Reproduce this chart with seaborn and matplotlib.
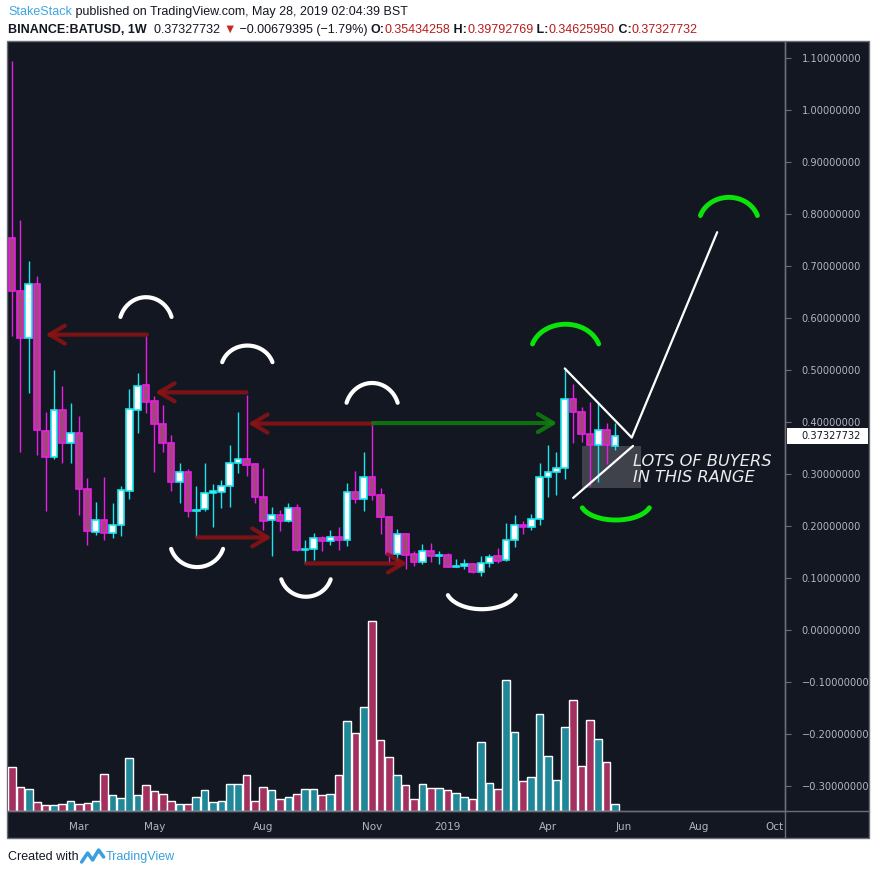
import numpy as np
import pandas as pd
import matplotlib
matplotlib.use("Agg")
import matplotlib.pyplot as plt
import seaborn as sns
from matplotlib import font_manager
from matplotlib.lines import Line2D
from matplotlib.patches import Rectangle
from matplotlib.transforms import blended_transform_factory

# weekly BINANCE:BATUSD candles, first bar = week of 2018-01-08
first_week = pd.Timestamp("2018-01-08")
opens = [0.754, 0.652, 0.561, 0.665, 0.383, 0.333, 0.423, 0.359, 0.378, 0.272,
         0.189, 0.212, 0.187, 0.201, 0.268, 0.424, 0.471, 0.440, 0.396, 0.360,
         0.285, 0.304, 0.229, 0.232, 0.263, 0.266, 0.277, 0.321, 0.328, 0.319,
         0.255, 0.211, 0.221, 0.210, 0.234, 0.154, 0.156, 0.177, 0.172, 0.178,
         0.174, 0.265, 0.251, 0.294, 0.259, 0.218, 0.147, 0.184, 0.146, 0.131,
         0.151, 0.143, 0.144, 0.122, 0.124, 0.127, 0.112, 0.128, 0.142, 0.134,
         0.174, 0.201, 0.199, 0.213, 0.294, 0.303, 0.311, 0.444, 0.420, 0.376,
         0.355, 0.384, 0.35434258]
highs = [1.094, 0.788, 0.710, 0.681, 0.420, 0.500, 0.469, 0.437, 0.412, 0.293,
         0.247, 0.295, 0.245, 0.277, 0.463, 0.495, 0.566, 0.450, 0.433, 0.375,
         0.322, 0.309, 0.277, 0.321, 0.281, 0.288, 0.356, 0.419, 0.452, 0.322,
         0.312, 0.236, 0.230, 0.244, 0.242, 0.174, 0.186, 0.180, 0.192, 0.199,
         0.282, 0.306, 0.342, 0.396, 0.273, 0.220, 0.194, 0.186, 0.152, 0.165,
         0.167, 0.152, 0.149, 0.137, 0.137, 0.128, 0.142, 0.147, 0.157, 0.205,
         0.221, 0.210, 0.224, 0.321, 0.356, 0.342, 0.503, 0.474, 0.428, 0.439,
         0.436, 0.398, 0.39792769]
lows = [0.566, 0.343, 0.456, 0.336, 0.228, 0.329, 0.321, 0.322, 0.221, 0.163,
        0.183, 0.173, 0.177, 0.180, 0.252, 0.379, 0.417, 0.303, 0.343, 0.268,
        0.245, 0.218, 0.178, 0.229, 0.199, 0.235, 0.237, 0.301, 0.297, 0.244,
        0.192, 0.143, 0.190, 0.208, 0.151, 0.129, 0.135, 0.151, 0.164, 0.154,
        0.162, 0.244, 0.228, 0.250, 0.185, 0.128, 0.133, 0.117, 0.124, 0.127,
        0.131, 0.127, 0.121, 0.121, 0.117, 0.109, 0.103, 0.121, 0.128, 0.132,
        0.160, 0.185, 0.192, 0.201, 0.255, 0.259, 0.290, 0.360, 0.361, 0.276,
        0.285, 0.319, 0.34625950]
closes = [0.651, 0.561, 0.665, 0.385, 0.333, 0.423, 0.359, 0.378, 0.272, 0.191,
          0.212, 0.187, 0.202, 0.269, 0.425, 0.469, 0.439, 0.396, 0.360, 0.285,
          0.304, 0.229, 0.230, 0.263, 0.267, 0.277, 0.321, 0.328, 0.318, 0.255,
          0.210, 0.221, 0.210, 0.234, 0.154, 0.156, 0.176, 0.172, 0.178, 0.174,
          0.265, 0.251, 0.294, 0.259, 0.218, 0.147, 0.184, 0.145, 0.131, 0.151,
          0.143, 0.144, 0.122, 0.124, 0.127, 0.112, 0.128, 0.141, 0.133, 0.174,
          0.201, 0.199, 0.213, 0.294, 0.303, 0.311, 0.444, 0.420, 0.376, 0.355,
          0.384, 0.355, 0.37327732]
volumes = [44, 24, 22, 9, 6, 6, 7, 10, 7, 8, 10, 37, 16, 13, 53, 16, 26, 20, 17, 10,
           7, 7, 14, 21, 9, 10, 27, 27, 36, 10, 24, 21, 12, 14, 17, 22, 22, 16, 17, 36,
           90, 78, 104, 190, 71, 54, 36, 26, 12, 27, 23, 23, 21, 18, 14, 12, 69, 28, 22, 131,
           79, 30, 34, 97, 55, 31, 84, 111, 45, 91, 72, 49, 7]

month_ticks = ["2018-03-05", "2018-05-07", "2018-08-06", "2018-11-05", "2019-01-07",
               "2019-04-01", "2019-06-03", "2019-08-05", "2019-10-07"]
month_labels = ["Mar", "May", "Aug", "Nov", "2019", "Apr", "Jun", "Aug", "Oct"]
last_price = 0.37327732

BG = "#131722"
BORDER = "#6b6e78"
TICK = "#b2b5be"
UP_LINE, UP_FILL = "#19e6ef", "#ffffff"
DN_LINE, DN_FILL = "#e91ee6", "#a7437f"
VOL_UP, VOL_DN = "#1f8797", "#a3305f"
ARROW_RED, ARROW_GREEN = "#8e1214", "#10800f"
ARC_GREEN = "#0be30b"

sns.set_style("dark", {"axes.facecolor": BG, "figure.facecolor": "white"})
plt.rcParams["font.family"] = ["DejaVu Sans"]

names = {f.name for f in font_manager.fontManager.ttflist}
head_font = ["Liberation Sans Narrow", "DejaVu Sans"] if "Liberation Sans Narrow" in names \
    else ["Liberation Sans", "DejaVu Sans"]
head_size = 10.3 if "Liberation Sans Narrow" in names else 9.0

df = pd.DataFrame({"open": opens, "high": highs, "low": lows, "close": closes, "volume": volumes})
df["week"] = np.arange(len(df))
df["side"] = np.where(df["close"] >= df["open"], "up", "down")
tick_pos = [(pd.Timestamp(d) - first_week).days / 7 for d in month_ticks]

W, H = 881, 874
fig = plt.figure(figsize=(W / 100, H / 100), dpi=100)


def fx(px):
    return px / W


def fy(py):
    return 1 - py / H


L, R, T, B = 8, 785, 42, 811
rect = [fx(L), fy(B), fx(R) - fx(L), fy(T) - fy(B)]
xlim = ((L - 12) / 8.375, (R - 12) / 8.375)
ylim = ((630 - B) / 520, (630 - T) / 520)

fig.add_artist(Rectangle((fx(7), fy(838)), fx(869) - fx(7), fy(41) - fy(838),
                         transform=fig.transFigure, facecolor=BG, edgecolor=BORDER, lw=1, zorder=0))

# volume underneath
axv = fig.add_axes(rect, zorder=1)
sns.barplot(data=df, x="week", y="volume", hue="side", palette={"up": VOL_UP, "down": VOL_DN},
            native_scale=True, dodge=False, width=0.92, saturation=1, errorbar=None,
            legend=False, ax=axv)
axv.set_xlim(xlim)
axv.set_ylim(0, B - T)
axv.axis("off")

# candles
ax = fig.add_axes(rect, zorder=2)
ax.set_facecolor("none")
up = df["side"] == "up"
line_cols = np.where(up, UP_LINE, DN_LINE)
fill_cols = np.where(up, UP_FILL, DN_FILL)
ax.vlines(df["week"], df["low"], df["high"], colors=line_cols, lw=1, zorder=3)
body = np.maximum((df["close"] - df["open"]).abs(), 0.0008)
ax.bar(df["week"], body, bottom=np.minimum(df["open"], df["close"]), width=0.8,
       color=fill_cols, edgecolor=line_cols, linewidth=1.2, zorder=4)

ax.set_xlim(xlim)
ax.set_ylim(ylim)
for s in ["left", "top"]:
    ax.spines[s].set_visible(False)
for s in ["right", "bottom"]:
    ax.spines[s].set_color(BORDER)
    ax.spines[s].set_linewidth(1)
ax.yaxis.tick_right()
price_ticks = np.round(np.arange(-0.3, 1.15, 0.1), 1)
ax.set_yticks(price_ticks)
ax.set_yticklabels([f"{v:.8f}".replace("-", "\u2212") for v in price_ticks])
ax.set_xticks(tick_pos)
ax.set_xticklabels(month_labels)
ax.tick_params(axis="y", colors=BORDER, labelcolor=TICK, labelsize=7.1, length=4, width=0.8, pad=8)
ax.tick_params(axis="x", colors=BORDER, labelcolor=TICK, labelsize=7.5, length=3, width=0.8, pad=5)
ax.grid(False)

fig.add_artist(Line2D([fx(R), fx(R)], [fy(41), fy(838)], color=BORDER, lw=1, transform=fig.transFigure))
fig.add_artist(Line2D([fx(7), fx(869)], [fy(B), fy(B)], color=BORDER, lw=1, transform=fig.transFigure))

# last price marker
blend = blended_transform_factory(fig.transFigure, ax.transData)
ax.add_patch(Rectangle((fx(787), last_price - 0.0155), fx(868) - fx(787), 0.031, transform=blend,
                       facecolor="white", edgecolor="none", clip_on=False, zorder=10))
ax.text(fx(801), last_price, f"{last_price:.8f}", transform=blend, color=BG, fontsize=7.1,
        va="center", ha="left", clip_on=False, zorder=11)

# drawings
arrows = [(16.1, 4.0, 0.568, ARROW_RED), (28.0, 17.1, 0.457, ARROW_RED),
          (43.1, 28.2, 0.397, ARROW_RED), (43.1, 65.1, 0.398, ARROW_GREEN),
          (22.1, 31.0, 0.178, ARROW_RED), (35.1, 47.2, 0.128, ARROW_RED)]
for x0, x1, y, c in arrows:
    ax.annotate("", xy=(x1, y), xytext=(x0, y), zorder=5,
                arrowprops=dict(arrowstyle="->,head_length=1.1,head_width=0.65", color=c,
                                lw=3, alpha=0.85, shrinkA=0, shrinkB=0))


def arc(x0, xm, x1, y_end, y_mid, color, lw):
    th0 = np.radians(18)
    th = np.linspace(th0, np.pi - th0, 80)
    xs = xm + (x1 - x0) / 2 * np.cos(th) / np.cos(th0)
    ys = y_end + (y_mid - y_end) * (np.sin(th) - np.sin(th0)) / (1 - np.sin(th0))
    ax.plot(xs, ys, color=color, lw=lw, solid_capstyle="round", zorder=6)


arcs = [(13.0, 16.0, 19.1, 0.602, 0.640, "white"), (25.2, 28.1, 31.2, 0.515, 0.547, "white"),
        (40.0, 43.0, 46.1, 0.437, 0.475, "white"), (19.0, 22.1, 25.2, 0.156, 0.121, "white"),
        (32.1, 35.1, 38.0, 0.0975, 0.064, "white"), (52.1, 56.1, 60.2, 0.067, 0.040, "white"),
        (62.1, 66.1, 70.0, 0.550, 0.588, ARC_GREEN), (68.2, 72.1, 76.2, 0.235, 0.2115, ARC_GREEN),
        (82.2, 85.6, 89.0, 0.797, 0.832, ARC_GREEN)]
for a in arcs:
    arc(*a[:5], color=a[5], lw=3.5 if a[5] == ARC_GREEN else 3)

ax.plot([66.0, 74.0, 84.2], [0.503, 0.370, 0.765], color="white", lw=1.6, zorder=6)
ax.plot([67.0, 74.15], [0.254, 0.354], color="white", lw=1.6, zorder=6)
ax.add_patch(Rectangle((68.06, 0.274), 7.05, 0.080, facecolor="#3f414b", edgecolor="none", zorder=2))
ax.text(74.15, 0.3154, "LOTS OF BUYERS", color="#ececec", fontsize=11.7, style="italic",
        va="baseline", ha="left", zorder=7)
ax.text(74.15, 0.2852, "IN THIS RANGE", color="#ececec", fontsize=11.7, style="italic",
        va="baseline", ha="left", zorder=7)

# header / footer
renderer = fig.canvas.get_renderer()


def text_run(x_px, y_px, parts, size):
    x = x_px
    for s, color, weight in parts:
        t = fig.text(fx(x), fy(y_px), s, color=color, fontsize=size, fontweight=weight,
                     family=head_font, va="center", ha="left")
        x = t.get_window_extent(renderer=renderer).x1
    return x


RED_TXT = "#b71c1c"
text_run(8, 12, [("StakeStack", "#3ea6e3", "normal"),
                 (" published on TradingView.com, May 28, 2019 02:04:39 BST", "#131722", "normal")], head_size)
text_run(8, 30, [("BINANCE:BATUSD, 1W", "#131722", "bold"), ("  0.37327732 ", "#131722", "normal"),
                 ("\u25bc", "#c62828", "normal"), (" \u22120.00679395 (\u22121.79%) ", "#131722", "normal"),
                 ("O:", "#131722", "bold"), ("0.35434258", RED_TXT, "normal"),
                 (" H:", "#131722", "bold"), ("0.39792769", RED_TXT, "normal"),
                 (" L:", "#131722", "bold"), ("0.34625950", RED_TXT, "normal"),
                 (" C:", "#131722", "bold"), ("0.37327732", RED_TXT, "normal")], head_size)
end = text_run(8, 857, [("Created with", "#131722", "normal")], head_size)
fig.add_artist(Line2D([fx(end + 3), fx(end + 9), fx(end + 14), fx(end + 20), fx(end + 25)],
                      [fy(862), fy(853), fy(860), fy(850), fy(857)], color="#39a0e0", lw=2.5,
                      solid_capstyle="round", transform=fig.transFigure))
text_run(end + 27, 857, [("TradingView", "#39a0e0", "normal")], head_size)

fig.savefig("out.png", dpi=100, facecolor="white")
